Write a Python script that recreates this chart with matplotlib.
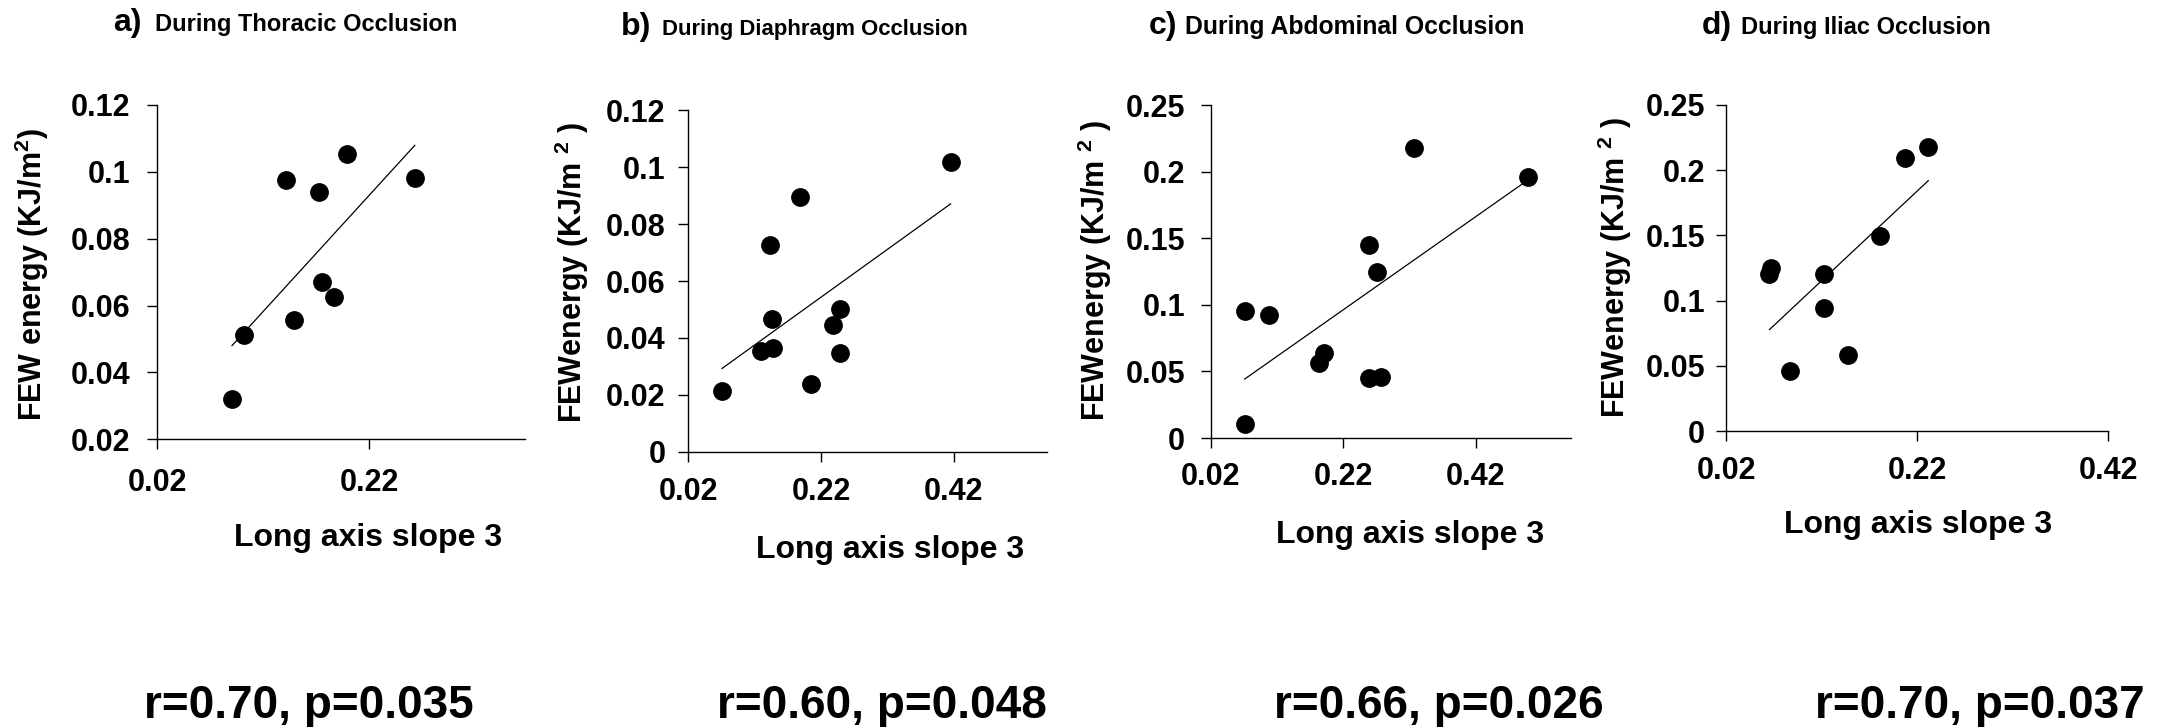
import numpy as np
import matplotlib
matplotlib.use("Agg")
import matplotlib.pyplot as plt
from matplotlib.ticker import FormatStrFormatter

plt.rcParams['font.family'] = ['Liberation Sans', 'DejaVu Sans']
plt.rcParams['font.weight'] = 'bold'
plt.rcParams['mathtext.fontset'] = 'custom'
plt.rcParams['mathtext.rm'] = 'Liberation Sans:bold'
plt.rcParams['mathtext.it'] = 'Liberation Sans:bold'
plt.rcParams['mathtext.bf'] = 'Liberation Sans:bold'
plt.rcParams['mathtext.default'] = 'rm'

# ---- data -------------------------------------------------------------
thoracic_slope = [0.0905, 0.1018, 0.1412, 0.1490, 0.1729, 0.1758, 0.1871, 0.1994, 0.2630]
thoracic_few = [0.0321, 0.0511, 0.0976, 0.0556, 0.0941, 0.0671, 0.0626, 0.1052, 0.0982]

diaphragm_slope = [0.0711, 0.1293, 0.1483, 0.1463, 0.1438, 0.1884, 0.2045, 0.2376, 0.2491, 0.2491, 0.4150]
diaphragm_few = [0.0215, 0.0355, 0.0365, 0.0466, 0.0727, 0.0897, 0.0238, 0.0447, 0.0501, 0.0347, 0.1019]

abdominal_slope = [0.0713, 0.0713, 0.1084, 0.1838, 0.1909, 0.2592, 0.2773, 0.2592, 0.2713, 0.3270, 0.4984]
abdominal_few = [0.0108, 0.0954, 0.0927, 0.0566, 0.0641, 0.0448, 0.0461, 0.1453, 0.1247, 0.2179, 0.1961]

iliac_slope = [0.0655, 0.0670, 0.0869, 0.1231, 0.1231, 0.1482, 0.1810, 0.2074, 0.2318]
iliac_few = [0.1205, 0.1250, 0.0460, 0.1206, 0.0946, 0.0585, 0.1498, 0.2096, 0.2178]

panel_letters = ["a)", "b)", "c)", "d)"]
panel_titles = ["During Thoracic Occlusion", "During Diaphragm Occlusion",
                "During Abdominal Occlusion", "During Iliac Occlusion"]
stats_text = ["r=0.70, p=0.035", "r=0.60, p=0.048", "r=0.66, p=0.026", "r=0.70, p=0.037"]
y_labels = [r"FEW energy (KJ/m$^{2}$)", r"FEWenergy (KJ/m $^{2}$ )",
            r"FEWenergy (KJ/m $^{2}$ )", r"FEWenergy (KJ/m $^{2}$ )"]
x_label = "Long axis slope 3"

x_ticks = [[0.02, 0.22], [0.02, 0.22, 0.42], [0.02, 0.22, 0.42], [0.02, 0.22, 0.42]]
y_ticks = [[0.02, 0.04, 0.06, 0.08, 0.10, 0.12],
           [0.0, 0.02, 0.04, 0.06, 0.08, 0.10, 0.12],
           [0.0, 0.05, 0.10, 0.15, 0.20, 0.25],
           [0.0, 0.05, 0.10, 0.15, 0.20, 0.25]]
x_limits = [(0.02, 0.367), (0.02, 0.56), (0.02, 0.563), (0.02, 0.42)]

series = [(thoracic_slope, thoracic_few), (diaphragm_slope, diaphragm_few),
          (abdominal_slope, abdominal_few), (iliac_slope, iliac_few)]

# ---- layout (pixel positions on the 2161 x 727 canvas) ----------------
W, H, DPI = 2161, 727, 100
axes_box = [(157.3, 105.0, 525.0, 439.3),
            (688.0, 110.4, 1047.0, 451.8),
            (1210.7, 105.3, 1570.7, 438.0),
            (1726.0, 105.0, 2108.0, 431.0)]
letter_pos = [(113, 31), (621, 35), (1149, 34), (1702, 34)]
title_pos = [(155, 31), (662, 35), (1185, 34), (1741, 34)]
title_size = [17.0, 15.9, 17.8, 17.0]
ylabel_pos = [(32, 274), (572, 272), (1095, 270), (1615, 267)]
xlabel_pos = [(368, 546), (890, 558), (1410, 543), (1918, 533)]
stats_pos = [(309, 718), (882, 718), (1439, 718), (1980, 718)]
ytick_pad = [12.0, 8.6, 11.0, 7.6]
xtick_pad = [13.0, 10.5, 10.0, 10.5]

fig = plt.figure(figsize=(W / DPI, H / DPI), dpi=DPI)
fig.patch.set_facecolor("white")


def fx(px):
    return px / W


def fy(py):
    return 1 - py / H


for i, (xs, ys) in enumerate(series):
    l, t, r, b = axes_box[i]
    ax = fig.add_axes([fx(l), fy(b), (r - l) / W, (b - t) / H])
    xs = np.asarray(xs)
    ys = np.asarray(ys)

    ax.plot(xs, ys, "o", color="black", ms=12.5, mec="black", clip_on=False, zorder=3)
    slope, intercept = np.polyfit(xs, ys, 1)
    xfit = np.array([xs.min(), xs.max()])
    ax.plot(xfit, slope * xfit + intercept, color="black", lw=0.9, zorder=2)

    ax.set_xlim(*x_limits[i])
    ax.set_ylim(y_ticks[i][0], y_ticks[i][-1])
    ax.set_xticks(x_ticks[i])
    ax.set_yticks(y_ticks[i])
    ax.xaxis.set_major_formatter(FormatStrFormatter("%g"))
    ax.yaxis.set_major_formatter(FormatStrFormatter("%g"))

    for side in ("top", "right"):
        ax.spines[side].set_visible(False)
    for side in ("left", "bottom"):
        ax.spines[side].set_linewidth(1.0)
        ax.spines[side].set_color("black")

    ax.tick_params(axis="both", direction="out", length=7.5, width=1.0,
                   labelsize=22, colors="black")
    ax.tick_params(axis="y", pad=ytick_pad[i])
    ax.tick_params(axis="x", pad=xtick_pad[i])
    for lab in ax.get_xticklabels() + ax.get_yticklabels():
        lab.set_fontweight("bold")
    ax.set_facecolor("none")

    # titles, axis labels and statistics
    fig.text(fx(letter_pos[i][0]), fy(letter_pos[i][1]), panel_letters[i],
             fontsize=23, fontweight="bold", ha="left", va="baseline")
    fig.text(fx(title_pos[i][0]), fy(title_pos[i][1]), panel_titles[i],
             fontsize=title_size[i], fontweight="bold", ha="left", va="baseline")
    fig.text(fx(ylabel_pos[i][0]), fy(ylabel_pos[i][1]), y_labels[i],
             fontsize=22, fontweight="bold", rotation=90, ha="center", va="center")
    fig.text(fx(xlabel_pos[i][0]), fy(xlabel_pos[i][1]), x_label,
             fontsize=23, fontweight="bold", ha="center", va="baseline")
    fig.text(fx(stats_pos[i][0]), fy(stats_pos[i][1]), stats_text[i],
             fontsize=33, fontweight="bold", ha="center", va="baseline")

fig.savefig("out.png", dpi=DPI, facecolor="white")
